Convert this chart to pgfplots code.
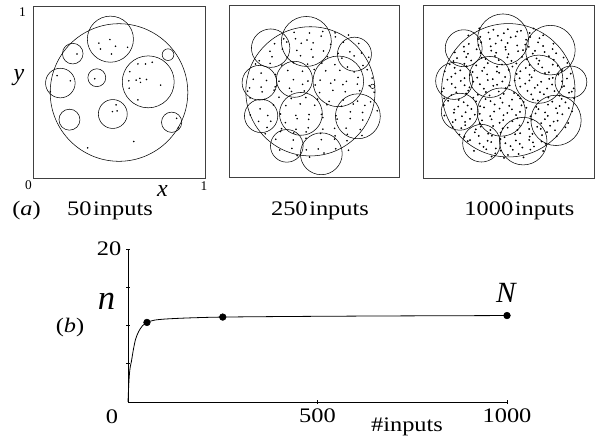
\documentclass[border=0pt]{standalone}
\usepackage{pgfplots}
\pgfplotsset{compat=1.18}
\usepackage{pgfplotstable}
\usepackage{fontspec}
\setmainfont{Liberation Serif}[FakeStretch=1.18]
\newfontfamily\plainserif{Liberation Serif}
\newcommand{\mainsize}{\fontsize{15.5}{18}\selectfont}

% circles: centre x, centre y, radius (axis units)
\pgfplotstableread{
x y r
0.500 0.497 0.400
0.450 0.807 0.134
0.231 0.723 0.060
0.785 0.717 0.034
0.159 0.552 0.086
0.371 0.583 0.052
0.670 0.559 0.151
0.212 0.339 0.061
0.464 0.372 0.084
0.806 0.324 0.059
}\circA
\pgfplotstableread{
x y r
0.479 0.498 0.380
0.245 0.749 0.113
0.455 0.788 0.147
0.738 0.714 0.100
0.179 0.548 0.102
0.385 0.568 0.106
0.643 0.556 0.149
0.845 0.527 0.013
0.758 0.353 0.132
0.189 0.355 0.098
0.423 0.367 0.126
0.340 0.181 0.096
0.543 0.135 0.123
}\circB
\pgfplotstableread{
x y r
0.499 0.507 0.390
0.238 0.750 0.108
0.468 0.801 0.149
0.745 0.739 0.145
0.182 0.561 0.108
0.391 0.584 0.120
0.677 0.571 0.141
0.865 0.555 0.093
0.215 0.383 0.108
0.458 0.381 0.141
0.778 0.333 0.147
0.342 0.201 0.110
0.586 0.213 0.139
}\circC

\pgfplotstableread{
x y
0.383 0.784
0.447 0.805
0.480 0.766
0.550 0.760
0.456 0.721
0.256 0.721
0.140 0.595
0.217 0.565
0.359 0.577
0.563 0.618
0.600 0.569
0.621 0.579
0.660 0.573
0.693 0.673
0.610 0.663
0.742 0.540
0.559 0.522
0.610 0.454
0.483 0.425
0.489 0.390
0.462 0.386
0.835 0.347
0.845 0.292
0.586 0.212
0.318 0.175
0.101 0.501
0.625 0.556
0.654 0.663
0.557 0.565
0.392 0.750
}\dotsA

\pgfplotstableread{
x y
0.401 0.124
0.423 0.142
0.474 0.116
0.497 0.133
0.559 0.139
0.588 0.119
0.298 0.157
0.354 0.180
0.370 0.166
0.426 0.171
0.455 0.158
0.512 0.184
0.525 0.163
0.581 0.176
0.628 0.164
0.649 0.182
0.703 0.156
0.262 0.213
0.275 0.219
0.331 0.199
0.378 0.215
0.399 0.208
0.453 0.225
0.482 0.201
0.543 0.217
0.566 0.197
0.621 0.220
0.643 0.206
0.694 0.211
0.717 0.198
0.213 0.251
0.242 0.238
0.303 0.264
0.326 0.243
0.381 0.256
0.403 0.244
0.454 0.262
0.477 0.236
0.539 0.253
0.568 0.259
0.624 0.239
0.640 0.255
0.696 0.248
0.725 0.265
0.782 0.241
0.173 0.295
0.224 0.288
0.247 0.305
0.309 0.281
0.338 0.297
0.394 0.277
0.410 0.300
0.466 0.286
0.495 0.291
0.552 0.278
0.565 0.304
0.621 0.283
0.668 0.296
0.689 0.284
0.743 0.302
0.772 0.276
0.833 0.293
0.174 0.323
0.190 0.336
0.246 0.324
0.275 0.342
0.332 0.316
0.345 0.333
0.401 0.339
0.448 0.319
0.469 0.335
0.523 0.328
0.552 0.345
0.613 0.321
0.636 0.337
0.691 0.317
0.713 0.340
0.764 0.326
0.787 0.331
0.849 0.318
0.125 0.361
0.181 0.377
0.228 0.357
0.249 0.380
0.303 0.366
0.332 0.371
0.393 0.358
0.416 0.384
0.471 0.363
0.493 0.376
0.544 0.364
0.567 0.382
0.629 0.356
0.658 0.373
0.714 0.379
0.730 0.359
0.786 0.375
0.815 0.368
0.872 0.385
0.122 0.422
0.183 0.396
0.206 0.413
0.261 0.419
0.283 0.399
0.334 0.415
0.357 0.408
0.419 0.425
0.448 0.401
0.504 0.417
0.520 0.397
0.576 0.420
0.605 0.406
0.662 0.411
0.675 0.398
0.731 0.424
0.778 0.403
0.799 0.416
0.853 0.404
0.124 0.460
0.147 0.446
0.209 0.451
0.238 0.438
0.294 0.464
0.310 0.443
0.366 0.456
0.395 0.444
0.452 0.462
0.465 0.436
0.521 0.453
0.568 0.459
0.589 0.439
0.643 0.455
0.672 0.448
0.733 0.465
0.756 0.441
0.811 0.457
0.833 0.437
0.884 0.460
0.110 0.499
0.166 0.479
0.195 0.495
0.252 0.488
0.265 0.505
0.321 0.481
0.368 0.497
0.389 0.477
0.443 0.500
0.472 0.486
0.533 0.491
0.556 0.478
0.611 0.504
0.633 0.483
0.684 0.496
0.707 0.484
0.769 0.502
0.798 0.476
0.854 0.493
0.870 0.499
0.121 0.518
0.168 0.544
0.189 0.523
0.243 0.536
0.272 0.524
0.333 0.542
0.356 0.516
0.411 0.533
0.433 0.539
0.484 0.519
0.507 0.535
0.569 0.528
0.598 0.545
0.654 0.521
0.670 0.537
0.726 0.517
0.755 0.540
0.812 0.526
0.825 0.531
0.881 0.518
0.143 0.568
0.166 0.585
0.221 0.561
0.243 0.577
0.294 0.557
0.317 0.580
0.379 0.566
0.408 0.571
0.464 0.558
0.480 0.584
0.536 0.563
0.565 0.576
0.622 0.564
0.635 0.582
0.691 0.556
0.738 0.573
0.759 0.579
0.813 0.559
0.842 0.575
0.127 0.616
0.189 0.604
0.218 0.622
0.274 0.596
0.290 0.613
0.346 0.619
0.375 0.599
0.432 0.615
0.445 0.608
0.501 0.625
0.548 0.601
0.569 0.617
0.623 0.597
0.652 0.620
0.713 0.606
0.736 0.611
0.791 0.598
0.813 0.624
0.864 0.603
0.156 0.657
0.185 0.637
0.242 0.660
0.255 0.646
0.311 0.651
0.358 0.638
0.379 0.664
0.433 0.643
0.462 0.656
0.523 0.644
0.546 0.662
0.601 0.636
0.623 0.653
0.674 0.659
0.697 0.639
0.759 0.655
0.788 0.648
0.844 0.665
0.178 0.676
0.199 0.693
0.253 0.699
0.282 0.679
0.343 0.695
0.366 0.688
0.421 0.705
0.443 0.681
0.494 0.697
0.517 0.677
0.579 0.700
0.608 0.686
0.664 0.691
0.680 0.678
0.736 0.704
0.765 0.683
0.822 0.696
0.186 0.726
0.241 0.731
0.263 0.718
0.314 0.744
0.337 0.723
0.399 0.736
0.428 0.724
0.484 0.742
0.500 0.716
0.556 0.733
0.585 0.739
0.642 0.719
0.655 0.735
0.711 0.728
0.758 0.745
0.779 0.721
0.239 0.759
0.268 0.775
0.324 0.768
0.340 0.785
0.396 0.761
0.425 0.777
0.482 0.757
0.495 0.780
0.551 0.766
0.598 0.771
0.619 0.758
0.673 0.784
0.702 0.763
0.763 0.776
0.265 0.824
0.322 0.803
0.335 0.816
0.391 0.804
0.438 0.822
0.459 0.796
0.513 0.813
0.542 0.819
0.603 0.799
0.626 0.815
0.681 0.808
0.703 0.825
0.329 0.865
0.383 0.841
0.412 0.857
0.473 0.837
0.496 0.860
0.551 0.846
0.573 0.851
0.624 0.838
0.647 0.864
}\dotsC

\pgfplotsset{
  panel/.style={scale only axis, anchor=south west, xmin=0, xmax=1, ymin=0, ymax=1,
    xtick=\empty, ytick=\empty, axis line style={black!75, line width=0.6pt}, clip=false},
  circ/.style={scatter, only marks, mark=o,
    scatter/use mapped color={draw=black},
    mark options={line width=0.4pt},
    visualization depends on={\thisrow{r}*#1 \as \rad},
    scatter/@pre marker code/.append style={/tikz/mark size=\rad pt}},
}

\begin{document}
\begin{tikzpicture}
\useasboundingbox (0,0) rectangle (450.75pt,330.75pt);

% panel 1: 50 inputs
\begin{axis}[panel, at={(24.75pt,197.25pt)}, width=129pt, height=129pt]
\addplot[circ=129] table {\circA};
\addplot[only marks, mark=*, mark size=0.35pt, black] table {\dotsA};
\end{axis}

% panel 2: 250 inputs
\begin{axis}[panel, at={(171.75pt,198pt)}, width=127.5pt, height=129pt]
\addplot[circ=127.5] table {\circB};
\addplot[only marks, mark=*, mark size=0.38pt, black, each nth point=2] table {\dotsC};
\end{axis}

% panel 3: 1000 inputs
\begin{axis}[panel, at={(317.25pt,197.25pt)}, width=128.25pt, height=129.75pt]
\addplot[circ=128.25] table {\circC};
\addplot[only marks, mark=*, mark size=0.45pt, black] table {\dotsC};
\end{axis}

% texts of row (a)
\node[font=\plainserif\fontsize{10}{12}\selectfont] at (16.9pt,321.75pt) {1};
\node[font=\plainserif\fontsize{10}{12}\selectfont] at (21.4pt,192pt) {0};
\node[font=\plainserif\fontsize{10}{12}\selectfont] at (153pt,191.25pt) {1};
\node[font=\plainserif\itshape\fontsize{18}{20}\selectfont] at (14.25pt,272.25pt) {y};
\node[font=\plainserif\itshape\fontsize{18}{20}\selectfont] at (121.9pt,187.5pt) {x};
\node[font=\mainsize, anchor=base] at (19.9pt,168.75pt) {(\textit{a})};
\node[font=\mainsize, anchor=base] at (82.5pt,168.75pt) {50\kern1.2pt inputs};
\node[font=\mainsize, anchor=base] at (240pt,168.75pt) {250\kern1.2pt inputs};
\node[font=\mainsize, anchor=base] at (389.6pt,168.75pt) {1000\kern1.2pt inputs};

% panel (b)
\begin{axis}[at={(96pt,29.25pt)}, anchor=south west, scale only axis,
  width=284.25pt, height=114.75pt,
  xmin=0, xmax=1000, ymin=0, ymax=20,
  axis lines=left, axis line style={-, line width=0.6pt, black},
  xtick={500,1000}, ytick={5,10,15,20}, yticklabels={,,,20},
  major tick length=3pt, tick style={line width=0.5pt, black},
  tick label style={font=\mainsize},
  /pgf/number format/assume math mode=true,
  /pgf/number format/set thousands separator={},
  clip=false]
\addplot[black, line width=0.6pt, smooth] coordinates {
(0,0) (2,2.3) (4,3.8) (6,4.6) (9,5.3) (14,6.8) (20,8.2) (28,9.2) (38,9.95)
(50,10.4) (70,10.7) (100,10.85) (150,10.97) (200,11.05) (250,11.1)
(350,11.15) (500,11.2) (700,11.25) (1000,11.3)};
\addplot[only marks, mark=*, mark size=2.5pt, black] coordinates {(50,10.4) (250,11.1) (1000,11.3)};
\end{axis}

\node[font=\mainsize] at (52.5pt,84.75pt) {(\textit{b})};
\node[font=\plainserif\itshape\fontsize{26}{28}\selectfont, anchor=base] at (79.9pt,98.25pt) {n};
\node[font=\plainserif\itshape\fontsize{22}{24}\selectfont, anchor=base] at (379.5pt,103.5pt) {N};
\node[font=\mainsize] at (84pt,18pt) {0};
\node[font=\mainsize] at (305.25pt,10.5pt) {\#inputs};
\end{tikzpicture}
\end{document}
